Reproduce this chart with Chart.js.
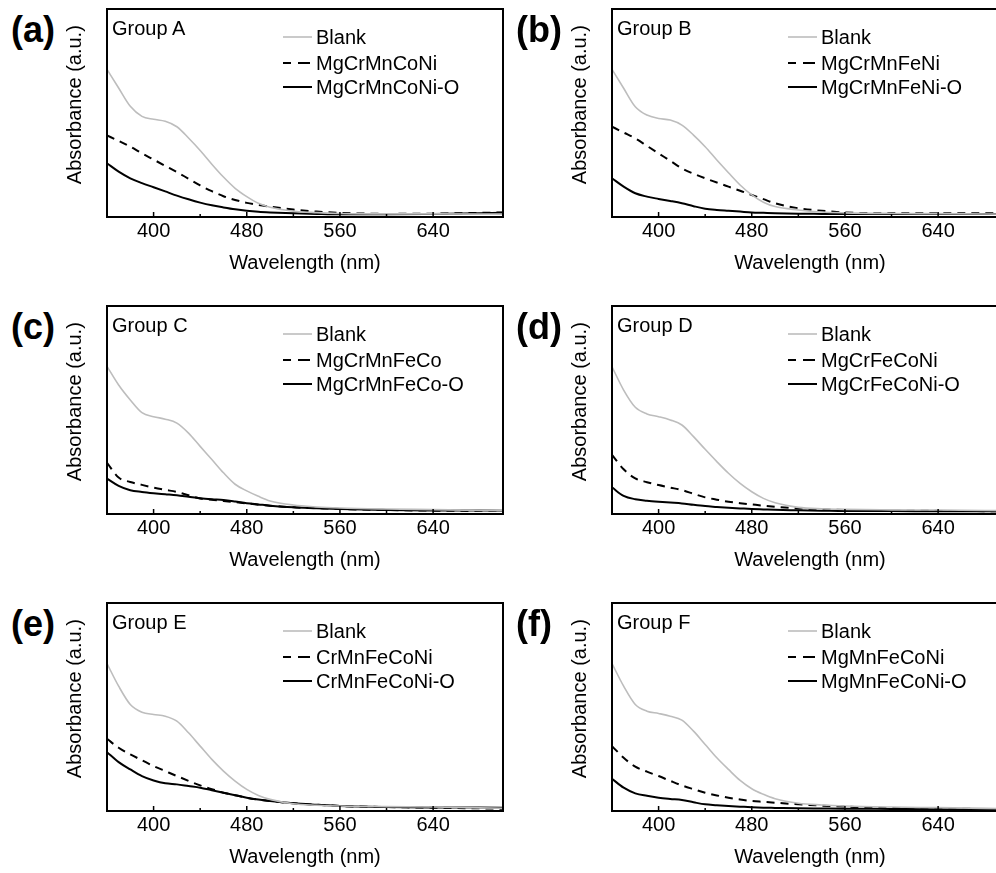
<!DOCTYPE html>
<html>
<head>
<meta charset="utf-8">
<script src="https://cdn.jsdelivr.net/npm/chart.js@4.4.1/dist/chart.umd.min.js"></script>
<style>
  html, body { margin: 0; padding: 0; background: #fff; overflow: hidden; width: 996px; height: 873px; }
  body { position: relative; font-family: "Liberation Sans", Arial, sans-serif; color: #000; }
  canvas { position: absolute; }
  .tag { position: absolute; font-weight: bold; font-size: 36px; line-height: 36px; }
  .grp { position: absolute; font-size: 20px; line-height: 20px; }
  .leg { position: absolute; font-size: 20px; line-height: 20px; white-space: nowrap; }
  .leg svg { position: absolute; left: 0; top: 8px; }
  .leg span { position: absolute; left: 33px; top: 0; }
</style>
</head>
<body>
<script>
// wavelength grid (nm) shared by all curves
var wavelengths = [360, 370, 380, 390, 400, 410, 420, 430, 440, 450, 460, 470, 480, 490, 500, 520, 540, 560, 600, 640, 700];

// Group A
var blankA = [.710, .620, .532, .484, .470, .460, .434, .380, .320, .254, .192, .138, .098, .066, .047, .028, .021, .017, .015, .015, .014];
var hmeA   = [.392, .366, .338, .306, .276, .246, .216, .184, .152, .124, .100, .082, .068, .058, .050, .036, .026, .020, .015, .016, .022];
var oxA    = [.258, .218, .186, .163, .143, .123, .103, .085, .069, .056, .046, .037, .030, .025, .022, .018, .015, .013, .013, .015, .020];
// Group B
var blankB = [.710, .619, .530, .490, .474, .466, .442, .394, .338, .274, .213, .154, .106, .071, .050, .034, .024, .020, .017, .016, .014];
var hmeB   = [.434, .406, .378, .342, .306, .270, .234, .208, .186, .166, .146, .126, .106, .086, .066, .042, .030, .022, .018, .018, .018];
var oxB    = [.186, .146, .114, .098, .087, .077, .066, .052, .040, .034, .030, .026, .022, .020, .018, .016, .015, .014, .014, .014, .015];
// Group C
var blankC = [.710, .620, .548, .487, .468, .456, .437, .389, .325, .262, .198, .143, .111, .085, .063, .043, .034, .029, .024, .021, .016];
var hmeC   = [.246, .175, .154, .140, .127, .116, .106, .090, .075, .068, .063, .057, .051, .045, .040, .032, .028, .024, .019, .016, .014];
var oxC    = [.170, .135, .114, .106, .100, .095, .090, .083, .076, .071, .067, .060, .052, .046, .040, .032, .028, .024, .019, .017, .016];
// Group D
var blankD = [.708, .596, .513, .481, .468, .452, .428, .372, .311, .252, .196, .147, .107, .075, .054, .032, .025, .022, .020, .019, .016];
var hmeD   = [.284, .215, .171, .153, .139, .127, .115, .097, .080, .069, .059, .052, .046, .040, .035, .027, .022, .019, .016, .015, .013];
var oxD    = [.128, .087, .071, .064, .059, .055, .051, .044, .038, .034, .030, .027, .024, .022, .020, .018, .016, .014, .014, .013, .013];
// Group E
var blankE = [.709, .600, .512, .475, .464, .456, .432, .376, .312, .248, .192, .144, .104, .075, .056, .035, .028, .024, .021, .019, .013];
var hmeE   = [.347, .304, .272, .244, .216, .192, .168, .145, .123, .105, .088, .076, .064, .055, .048, .037, .030, .024, .019, .016, .011];
var oxE    = [.283, .235, .200, .168, .147, .133, .128, .120, .112, .100, .088, .076, .064, .055, .048, .037, .030, .024, .019, .017, .016];
// Group F
var blankF = [.709, .600, .512, .480, .469, .456, .437, .384, .320, .256, .200, .147, .107, .080, .059, .037, .029, .024, .019, .016, .011];
var hmeF   = [.312, .256, .213, .189, .168, .145, .123, .105, .088, .075, .064, .055, .048, .044, .040, .032, .026, .021, .014, .012, .008];
var oxF    = [.155, .112, .085, .073, .064, .058, .053, .042, .032, .028, .024, .021, .018, .016, .015, .013, .012, .011, .010, .009, .008];

var panelTags = ["(a)", "(b)", "(c)", "(d)", "(e)", "(f)"];
var groupNames = ["Group A", "Group B", "Group C", "Group D", "Group E", "Group F"];
var sampleNames = ["MgCrMnCoNi", "MgCrMnFeNi", "MgCrMnFeCo", "MgCrFeCoNi", "CrMnFeCoNi", "MgMnFeCoNi"];
var blanks = [blankA, blankB, blankC, blankD, blankE, blankF];
var hmes = [hmeA, hmeB, hmeC, hmeD, hmeE, hmeF];
var oxides = [oxA, oxB, oxC, oxD, oxE, oxF];

Chart.defaults.font.family = '"Liberation Sans", Arial, sans-serif';
Chart.defaults.color = "#000";

// box around the plot + small inward ticks on the x axis
var framePlugin = {
  id: "frame",
  afterDatasetsDraw: function (chart) {
    var ctx = chart.ctx, a = chart.chartArea, x = chart.scales.x;
    ctx.save();
    ctx.strokeStyle = "#000";
    ctx.lineWidth = 1.5;
    x.ticks.forEach(function (t) {
      if (t.value <= x.min || t.value >= x.max) return;
      var px = x.getPixelForValue(t.value);
      var len = t.value % 80 === 0 ? 5 : 3;
      ctx.beginPath();
      ctx.moveTo(px, a.bottom);
      ctx.lineTo(px, a.bottom - len);
      ctx.stroke();
    });
    ctx.lineWidth = 2;
    ctx.strokeRect(a.left, a.top, a.right - a.left, a.bottom - a.top);
    ctx.restore();
  }
};

function pts(ys) {
  return wavelengths.map(function (w, i) { return {x: w, y: ys[i]}; });
}

var plotLefts = [107, 612];
var plotTops = [9, 306, 603];
var AXW = 50, AXH = 60, PADT = 4, PADR = 4, PW = 396, PH = 208;

function addDiv(cls, left, top, html) {
  var d = document.createElement("div");
  d.className = cls;
  d.style.left = left + "px";
  d.style.top = top + "px";
  d.innerHTML = html;
  document.body.appendChild(d);
}

function legendRow(left, top, kind, text) {
  var svg = '<svg width="30" height="4">';
  if (kind === "blank") svg += '<line x1="0" y1="2" x2="29" y2="2" stroke="#bdbdbd" stroke-width="1.6"/>';
  if (kind === "dash") svg += '<line x1="0" y1="2" x2="8" y2="2" stroke="#000" stroke-width="2"/><line x1="15" y1="2" x2="27" y2="2" stroke="#000" stroke-width="2"/>';
  if (kind === "solid") svg += '<line x1="0" y1="2" x2="29" y2="2" stroke="#000" stroke-width="2"/>';
  svg += "</svg>";
  addDiv("leg", left, top, svg + "<span>" + text + "</span>");
}

for (var i = 0; i < 6; i++) {
  var pl = plotLefts[i % 2], pt = plotTops[Math.floor(i / 2)];
  var cv = document.createElement("canvas");
  var cw = AXW + PW + PADR, ch = PADT + PH + AXH;
  cv.width = cw; cv.height = ch;
  cv.style.width = cw + "px"; cv.style.height = ch + "px";
  cv.style.left = (pl - AXW) + "px";
  cv.style.top = (pt - PADT) + "px";
  document.body.appendChild(cv);

  new Chart(cv, {
    type: "line",
    data: {
      datasets: [
        { label: "Blank", data: pts(blanks[i]), borderColor: "#bdbdbd", borderWidth: 1.6 },
        { label: sampleNames[i], data: pts(hmes[i]), borderColor: "#000", borderWidth: 2, borderDash: [8, 6] },
        { label: sampleNames[i] + "-O", data: pts(oxides[i]), borderColor: "#000", borderWidth: 2 }
      ]
    },
    options: {
      responsive: false,
      animation: false,
      events: [],
      elements: { point: { radius: 0 }, line: { cubicInterpolationMode: "monotone", fill: false } },
      layout: { padding: { top: PADT, right: PADR, left: 0, bottom: 0 } },
      plugins: { legend: { display: false }, tooltip: { enabled: false } },
      scales: {
        x: {
          type: "linear",
          min: 360,
          max: 700,
          grid: { display: false, drawTicks: false },
          border: { display: false },
          ticks: {
            stepSize: 40,
            autoSkip: false,
            maxRotation: 0,
            padding: 2,
            font: { size: 20 },
            callback: function (v) { return (v % 80 === 0 && v > 360 && v < 700) ? v : ""; }
          },
          title: { display: true, text: "Wavelength (nm)", font: { size: 20 }, padding: { top: 0, bottom: 2 } },
          afterFit: function (s) { s.height = AXH; }
        },
        y: {
          min: 0,
          max: 1,
          grid: { display: false, drawTicks: false },
          border: { display: false },
          ticks: { display: false },
          // leading spaces lift the rotated title a little, as in the original
          title: { display: true, text: "\u00a0\u00a0\u00a0Absorbance (a.u.)", font: { size: 20 }, padding: { top: 6, bottom: 0 } },
          afterFit: function (s) { s.width = AXW; }
        }
      }
    },
    plugins: [framePlugin]
  });

  addDiv("tag", pl - 96, pt + 3, panelTags[i]);
  addDiv("grp", pl + 5, pt + 9, groupNames[i]);
  legendRow(pl + 176, pt + 18, "blank", "Blank");
  legendRow(pl + 176, pt + 43.5, "dash", sampleNames[i]);
  legendRow(pl + 176, pt + 68, "solid", sampleNames[i] + "-O");
}
</script>
</body>
</html>
